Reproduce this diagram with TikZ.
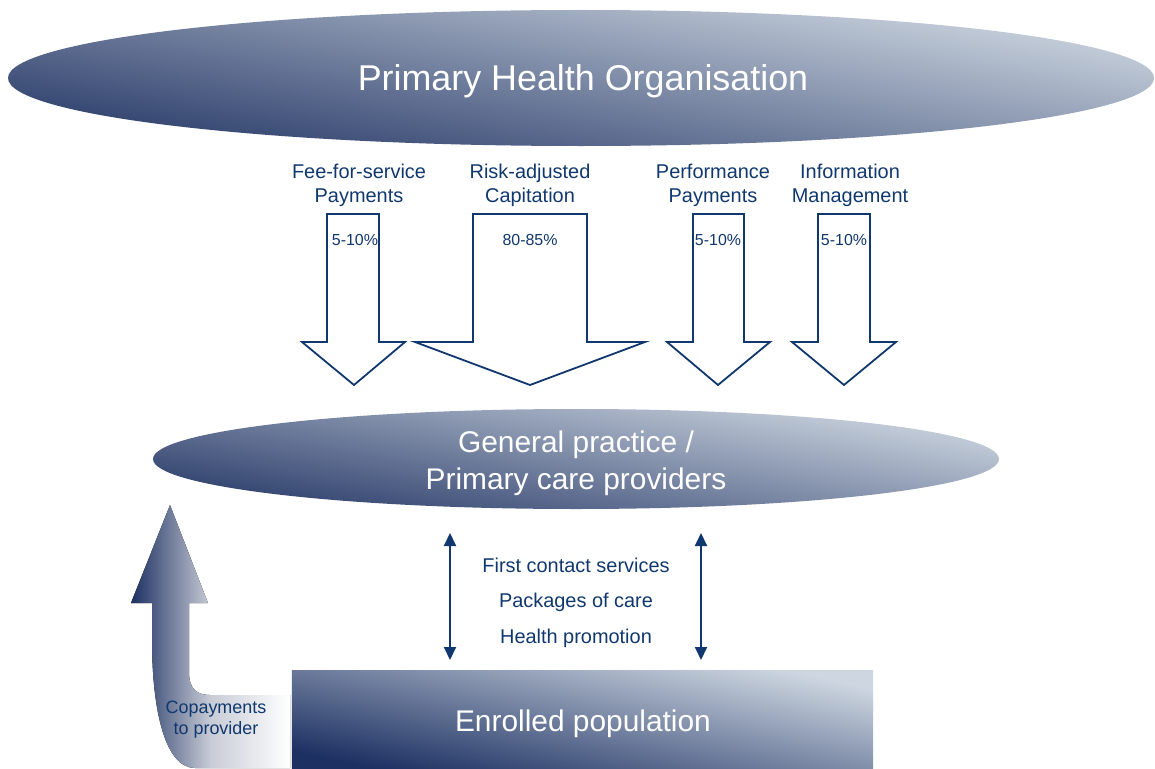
\documentclass[tikz,border=0pt]{standalone}
\usepackage{fontspec}
\setmainfont{Liberation Sans}
\usetikzlibrary{arrows.meta,positioning,shapes.geometric}

\definecolor{deepblue}{RGB}{28,48,98}
\definecolor{duskblue}{RGB}{42,60,106}
\definecolor{paleblue}{RGB}{206,215,225}
\definecolor{inkblue}{RGB}{16,56,110}
\definecolor{mistgrey}{RGB}{200,204,214}

\tikzset{
  bubble/.style={ellipse,inner sep=0pt,top color=paleblue,bottom color=duskblue,
    shading angle=-10,text=white,align=center},
  slab/.style={rectangle,inner sep=0pt,top color=paleblue,bottom color=deepblue,
    shading angle=-12,text=white},
  payarrow/.style={draw=inkblue,fill=white,line width=1.8bp,line join=miter},
  fundlabel/.style={text=inkblue,align=center,font=\fontsize{20}{24}\selectfont},
  share/.style={text=inkblue,font=\fontsize{16}{19}\selectfont},
  service/.style={text=inkblue,font=\fontsize{20}{24}\selectfont},
  flow/.style={<->,draw=inkblue,line width=2bp},
  copay/.style={left color=deepblue,right color=white,middle color=mistgrey},
}

\begin{document}
\begin{tikzpicture}[x=1bp,y=-1bp,>={Triangle[length=13bp,width=12bp]},line join=bevel,]

\useasboundingbox (0,0) rectangle (1155,769);
%%
  % Node: pho
  \node [bubble,minimum width=1146bp,minimum height=136bp] (pho) at (581,78) {};
  \node [text=white,font=\fontsize{36}{40}\selectfont] (photext) at (583,81) {Primary Health Organisation};
  % Node: gp
  \node [bubble,minimum width=846bp,minimum height=100bp] (gp) at (576,459) {};
  \node [text=white,align=center,font=\fontsize{30}{37}\selectfont] (gptext) at (576,463) {General practice /\\Primary care providers};
  % Node: pop
  \node [slab,minimum width=581bp,minimum height=99bp] (pop) at (582.5,719.5) {};
  \node [text=white,font=\fontsize{30}{36}\selectfont] (poptext) at (583,724) {Enrolled population};

  % Payment streams
  \draw [payarrow] (327,214) -- (379,214) -- (379,342) -- (405,342) -- (354,385) -- (302,342) -- (327,342) -- cycle;
  \draw [payarrow] (473,214) -- (587,214) -- (587,342) -- (645,342) -- (530,385) -- (415,342) -- (473,342) -- cycle;
  \draw [payarrow] (693,214) -- (744,214) -- (744,342) -- (770,342) -- (718,385) -- (667,342) -- (693,342) -- cycle;
  \draw [payarrow] (818,214) -- (870,214) -- (870,342) -- (896,342) -- (844,385) -- (792,342) -- (818,342) -- cycle;

  % Node: fee
  \node [fundlabel] (fee) at (359,185) {Fee-for-service\\Payments};
  % Node: cap
  \node [fundlabel] (cap) at (530,185) {Risk-adjusted\\Capitation};
  % Node: perf
  \node [fundlabel] (perf) at (713,185) {Performance\\Payments};
  % Node: info
  \node [fundlabel] (info) at (850,185) {Information\\Management};

  % Node: feeshare
  \node [share] (feeshare) at (355,240) {5-10\%};
  % Node: capshare
  \node [share] (capshare) at (530,240) {80-85\%};
  % Node: perfshare
  \node [share] (perfshare) at (718,240) {5-10\%};
  % Node: infoshare
  \node [share] (infoshare) at (844,240) {5-10\%};

  % Node: svc1
  \node [service] (svc1) at (576,565) {First contact services};
  % Node: svc2
  \node [service] (svc2) at (576,602) {Packages of care};
  % Node: svc3
  \node [service] (svc3) at (576,638) {Health promotion};

  \coordinate (ltop) at (450,533);
  \coordinate (lbot) at (450,660);
  \coordinate (rtop) at (701,533);
  \coordinate (rbot) at (701,660);
  % Edge: gp <-> pop
  \draw [flow] (ltop) -- (lbot);
  % Edge: gp <-> pop
  \draw [flow] (rtop) -- (rbot);

  % Copayment return arrow
  \fill [copay] (290,695) -- (210,695) .. controls (196,695) and (189,688) .. (189,672)
    -- (189,603) -- (208,603) -- (170,505) -- (131,603) -- (152,603) -- (152,640)
    .. controls (152,710) and (165,768) .. (195,768) -- (290,768) -- cycle;
  % Node: copaytext
  \node [text=inkblue,align=center,font=\fontsize{18}{21}\selectfont] (copaytext) at (216,720) {Copayments\\to provider};
%
\end{tikzpicture}
\end{document}
